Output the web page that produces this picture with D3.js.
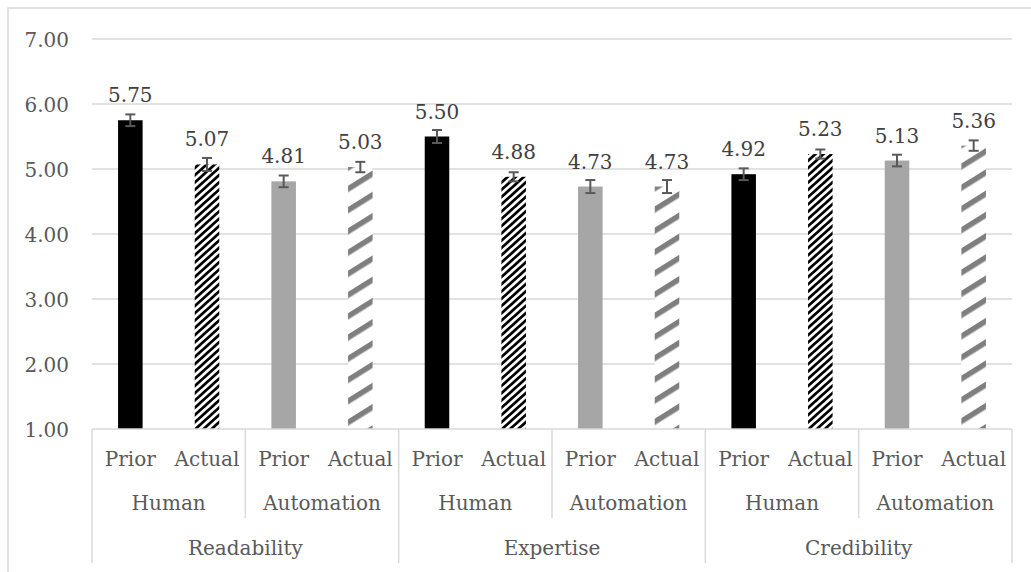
<!DOCTYPE html>
<html>
<head>
<meta charset="utf-8">
<style>
  body { margin: 0; background: #fff; }
</style>
</head>
<body>
<script src="https://d3js.org/d3.v7.min.js"></script>
<script>
// chart data
var measures = ["Readability", "Expertise", "Credibility"];
var agents = ["Human", "Automation"];
var timings = ["Prior", "Actual"];
var means  = [5.75, 5.07, 4.81, 5.03,  5.50, 4.88, 4.73, 4.73,  4.92, 5.23, 5.13, 5.36];
var errors = [0.09, 0.10, 0.09, 0.08,  0.10, 0.07, 0.10, 0.10,  0.09, 0.07, 0.09, 0.08];
var yTicks = [1, 2, 3, 4, 5, 6, 7];

var width = 1031, height = 572;
var plot = { left: 92, right: 1012, top: 39, bottom: 429 };
var serif = 'DejaVu Serif';
var fs = 20;

// flat list of bars
var bars = [];
measures.forEach(function(m, mi) {
  agents.forEach(function(a, ai) {
    timings.forEach(function(t, ti) {
      var i = mi * 4 + ai * 2 + ti;
      bars.push({ i: i, measure: m, agent: a, timing: t, value: means[i], err: errors[i] });
    });
  });
});

var svg = d3.select('body').append('svg')
  .attr('width', width).attr('height', height)
  .attr('font-family', serif);

// hatch patterns for "Actual" bars
var defs = svg.append('defs');
function hatch(id, color, period, thick, angle) {
  var p = defs.append('pattern')
    .attr('id', id)
    .attr('patternUnits', 'userSpaceOnUse')
    .attr('width', 40).attr('height', period)
    .attr('patternTransform', 'rotate(' + (-angle) + ')');
  p.append('rect').attr('width', 40).attr('height', period).attr('fill', '#fff');
  p.append('rect').attr('y', 0).attr('width', 40).attr('height', thick).attr('fill', color);
}
hatch('hatchBlack', '#000', 5.4, 2.7, 42);
hatch('hatchGray', '#7f7f7f', 18, 5.5, 32);

// outer frame (right/bottom edges fall outside the picture)
svg.append('rect')
  .attr('x', 8).attr('y', 8).attr('width', 1060).attr('height', 620)
  .attr('fill', 'none').attr('stroke', '#d9d9d9').attr('stroke-width', 1.5);

var x = d3.scaleBand()
  .domain(d3.range(bars.length))
  .range([plot.left, plot.right]);

var y = d3.scaleLinear()
  .domain([1, 7])
  .range([plot.bottom, plot.top]);

// gridlines
svg.append('g')
  .selectAll('line')
  .data(yTicks.slice(1))
  .enter().append('line')
  .attr('x1', plot.left).attr('x2', plot.right)
  .attr('y1', function(d) { return y(d); })
  .attr('y2', function(d) { return y(d); })
  .attr('stroke', '#d9d9d9').attr('stroke-width', 1.5);

// y tick labels
svg.append('g')
  .selectAll('text')
  .data(yTicks)
  .enter().append('text')
  .attr('x', 69)
  .attr('y', function(d) { return y(d) + 8; })
  .attr('text-anchor', 'end')
  .attr('font-size', fs)
  .attr('fill', '#595959')
  .text(function(d) { return d.toFixed(2); });

var bw = x.bandwidth() * 0.32;
function cx(d) { return x(d.i) + x.bandwidth() / 2; }
function fillFor(d) {
  if (d.timing === 'Prior') return d.agent === 'Human' ? '#000' : '#a6a6a6';
  return d.agent === 'Human' ? 'url(#hatchBlack)' : 'url(#hatchGray)';
}

// bars
svg.append('g')
  .selectAll('rect')
  .data(bars)
  .enter().append('rect')
  .attr('x', function(d) { return cx(d) - bw / 2; })
  .attr('width', bw)
  .attr('y', function(d) { return y(d.value); })
  .attr('height', function(d) { return y(1) - y(d.value); })
  .attr('fill', fillFor);

// error bars
var eb = svg.append('g')
  .attr('stroke', '#595959').attr('stroke-width', 2)
  .selectAll('g')
  .data(bars)
  .enter().append('g');
eb.append('line')
  .attr('x1', cx).attr('x2', cx)
  .attr('y1', function(d) { return y(d.value + d.err); })
  .attr('y2', function(d) { return y(d.value - d.err); });
eb.append('line')
  .attr('x1', function(d) { return cx(d) - 5; })
  .attr('x2', function(d) { return cx(d) + 5; })
  .attr('y1', function(d) { return y(d.value + d.err); })
  .attr('y2', function(d) { return y(d.value + d.err); });
eb.append('line')
  .attr('x1', function(d) { return cx(d) - 5; })
  .attr('x2', function(d) { return cx(d) + 5; })
  .attr('y1', function(d) { return y(d.value - d.err); })
  .attr('y2', function(d) { return y(d.value - d.err); });

// value labels
svg.append('g')
  .selectAll('text')
  .data(bars)
  .enter().append('text')
  .attr('x', cx)
  .attr('y', function(d) { return y(d.value) - 18; })
  .attr('text-anchor', 'middle')
  .attr('font-size', fs)
  .attr('fill', '#404040')
  .text(function(d) { return d.value.toFixed(2); });

// multi-level category axis
var axis = svg.append('g')
  .attr('font-size', fs)
  .attr('fill', '#595959');
var row1 = 466, row2 = 510, row3 = 555;
var lvl2Bottom = 518, lvl3Bottom = 563;

axis.append('line')
  .attr('x1', plot.left).attr('x2', plot.right)
  .attr('y1', plot.bottom).attr('y2', plot.bottom)
  .attr('stroke', '#d9d9d9').attr('stroke-width', 1.5);

axis.selectAll('text.timing')
  .data(bars)
  .enter().append('text')
  .attr('class', 'timing')
  .attr('x', cx)
  .attr('y', row1)
  .attr('text-anchor', 'middle')
  .text(function(d) { return d.timing; });

// agent labels (one per pair of bars)
var agentGroups = bars.filter(function(d) { return d.timing === 'Prior'; });
axis.selectAll('text.agent')
  .data(agentGroups)
  .enter().append('text')
  .attr('class', 'agent')
  .attr('x', function(d) { return x(d.i) + x.bandwidth(); })
  .attr('y', row2)
  .attr('text-anchor', 'middle')
  .text(function(d) { return d.agent; });

// dividers between agent pairs inside a measure
axis.selectAll('line.agentDiv')
  .data(bars.filter(function(d) { return d.agent === 'Automation' && d.timing === 'Prior'; }))
  .enter().append('line')
  .attr('class', 'agentDiv')
  .attr('x1', function(d) { return x(d.i); })
  .attr('x2', function(d) { return x(d.i); })
  .attr('y1', plot.bottom).attr('y2', lvl2Bottom)
  .attr('stroke', '#d9d9d9').attr('stroke-width', 1.5);

// measure labels and dividers
axis.selectAll('text.measure')
  .data(measures)
  .enter().append('text')
  .attr('class', 'measure')
  .attr('x', function(d, i) { return x(i * 4) + x.bandwidth() * 2; })
  .attr('y', row3)
  .attr('text-anchor', 'middle')
  .text(function(d) { return d; });

axis.selectAll('line.measureDiv')
  .data(d3.range(measures.length + 1))
  .enter().append('line')
  .attr('class', 'measureDiv')
  .attr('x1', function(i) { return i < measures.length ? x(i * 4) : plot.right; })
  .attr('x2', function(i) { return i < measures.length ? x(i * 4) : plot.right; })
  .attr('y1', plot.bottom).attr('y2', lvl3Bottom)
  .attr('stroke', '#d9d9d9').attr('stroke-width', 1.5);
</script>
</body>
</html>
